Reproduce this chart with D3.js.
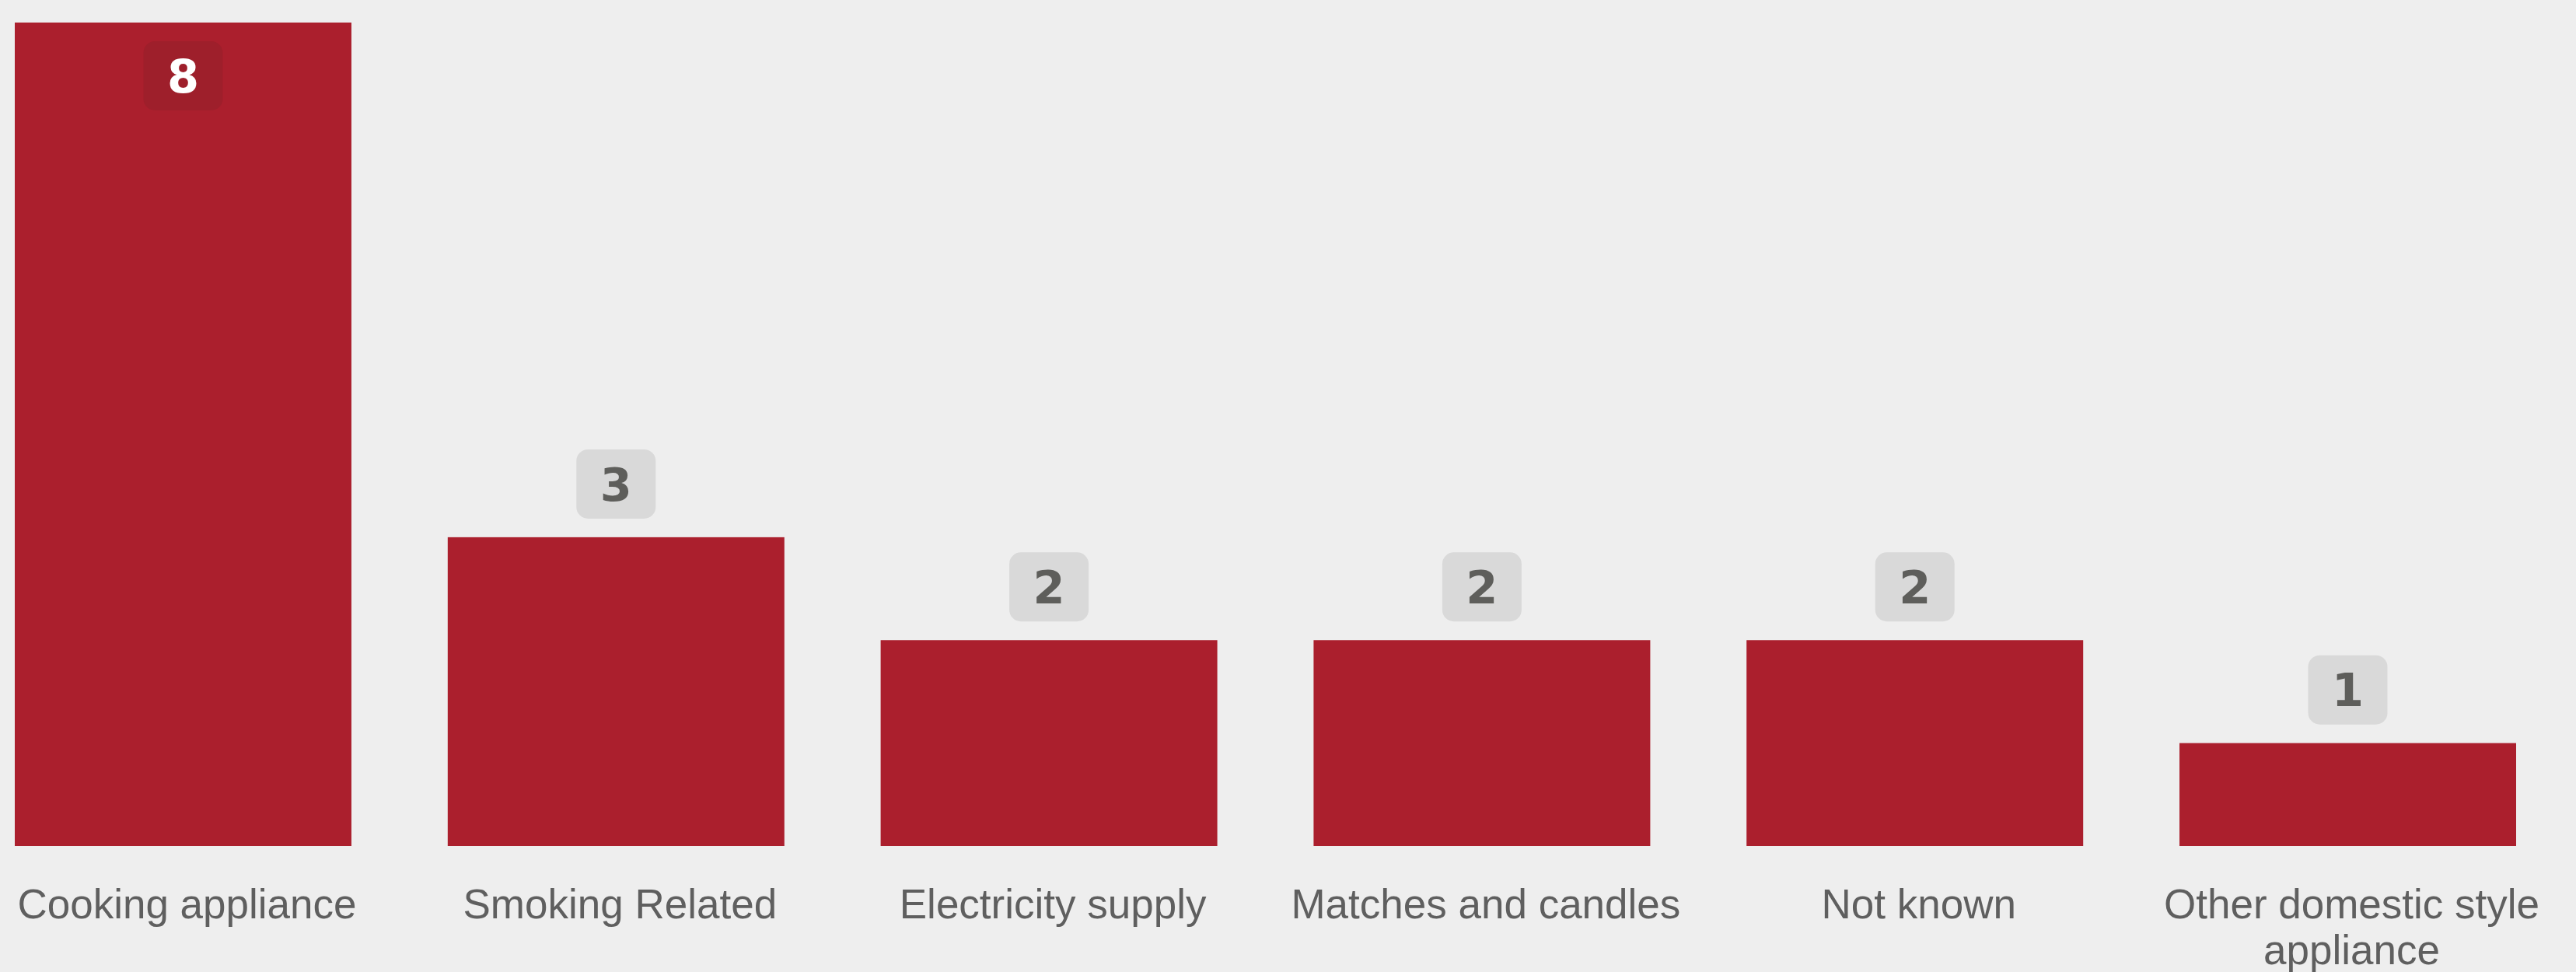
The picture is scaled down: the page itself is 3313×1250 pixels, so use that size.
<!DOCTYPE html>
<html lang="en">
<head>
    <meta charset="UTF-8">
    <title>Fire causes</title>
    <style>
        html, body { margin: 0; padding: 0; background: #eeeeee; }
        svg text { font-family: 'Liberation Sans', Arial, sans-serif; }
    </style>
    <script src="https://d3js.org/d3.v7.min.js"></script>
</head>
<body>
    <svg width="3313" height="1250"></svg>
    <script>
        const categories = ["Cooking appliance", "Smoking Related", "Electricity supply",
                            "Matches and candles", "Not known", "Other domestic style appliance"];
        const counts = [8, 3, 2, 2, 2, 1];

        const width = 3313, height = 1250;
        const baseY = 1088, topY = 29;
        const svg = d3.select("svg").attr("width", width).attr("height", height);

        svg.append("rect")
            .attr("width", width).attr("height", height)
            .attr("fill", "#eeeeee");

        const data = categories.map((c, i) => ({ cat: c, value: counts[i] }));

        const x = d3.scaleBand()
            .domain(categories)
            .range([19, 3236])
            .paddingInner(0.2224)
            .paddingOuter(0);

        const y = d3.scaleLinear()
            .domain([0, d3.max(counts)])
            .range([baseY, topY]);

        // bars
        svg.selectAll("rect.bar")
            .data(data)
            .enter().append("rect")
            .attr("class", "bar")
            .attr("x", d => x(d.cat))
            .attr("y", d => y(d.value))
            .attr("width", x.bandwidth())
            .attr("height", d => y(0) - y(d.value))
            .attr("fill", "#ab1f2d");

        // value badges - inside the bar if it would run off the top
        const boxW = 102, boxH = 89, gap = 24;
        const isInside = d => y(d.value) - gap - boxH < 0;

        const badge = svg.selectAll("g.badge")
            .data(data)
            .enter().append("g")
            .attr("class", "badge")
            .attr("transform", d => {
                const top = y(d.value);
                const by = isInside(d) ? top + gap : top - gap - boxH;
                return `translate(${x(d.cat) + x.bandwidth() / 2}, ${by})`;
            });

        badge.append("rect")
            .attr("x", -boxW / 2)
            .attr("width", boxW)
            .attr("height", boxH)
            .attr("rx", 15).attr("ry", 15)
            .attr("fill", d => isInside(d) ? "#9e1f2b" : "#d9d9d9");

        badge.append("text")
            .attr("y", boxH / 2)
            .attr("dy", "0.36em")
            .attr("text-anchor", "middle")
            .style("font-family", "'DejaVu Sans', Verdana, sans-serif")
            .style("font-weight", "700")
            .style("font-size", "59px")
            .style("fill", d => isInside(d) ? "#ffffff" : "#5e5e5b")
            .text(d => d.value);

        // category axis
        const axis = svg.append("g")
            .attr("transform", `translate(5, ${baseY})`)
            .call(d3.axisBottom(x).tickSize(0));
        axis.select(".domain").remove();
        axis.selectAll("text")
            .attr("y", 93)
            .attr("dy", 0)
            .style("font-family", "'Liberation Sans', Arial, sans-serif")
            .style("font-size", "53px")
            .style("fill", "#5f5f5f")
            .call(wrap, x.step());

        function wrap(texts, maxW) {
            texts.each(function() {
                const text = d3.select(this);
                const words = text.text().split(/\s+/);
                const ty = text.attr("y");
                text.text(null);
                let line = [];
                let lineNo = 0;
                let tspan = text.append("tspan").attr("x", 0).attr("y", ty);
                words.forEach(w => {
                    line.push(w);
                    tspan.text(line.join(" "));
                    if (tspan.node().getComputedTextLength() > maxW && line.length > 1) {
                        line.pop();
                        tspan.text(line.join(" "));
                        line = [w];
                        lineNo++;
                        tspan = text.append("tspan").attr("x", 0)
                            .attr("y", +ty + lineNo * 59).text(w);
                    }
                });
            });
        }
    </script>
</body>
</html>
